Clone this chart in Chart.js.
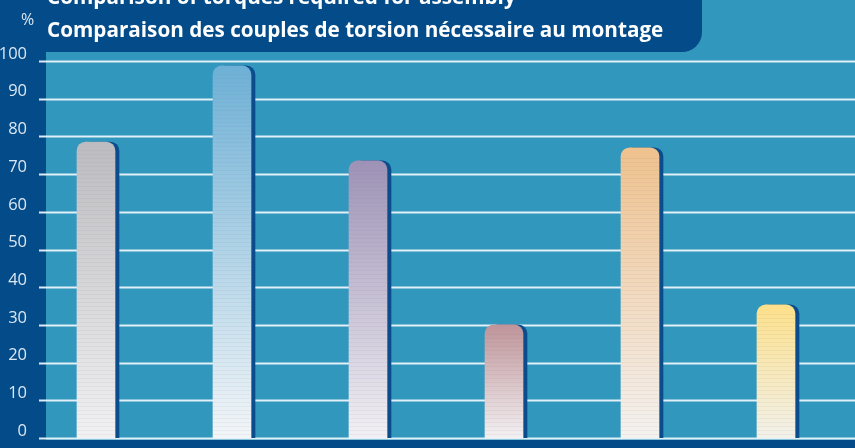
<!DOCTYPE html>
<html>
<head>
<meta charset="utf-8">
<script src="https://cdn.jsdelivr.net/npm/chart.js@4"></script>
<style>
  html, body { margin: 0; padding: 0; background: #034b89; overflow: hidden; }
  #wrap { width: 855px; height: 448px; }
</style>
</head>
<body>
<div id="wrap"><canvas id="myChart" width="855" height="448"></canvas></div>
<script>
// chart data
var categories = ['1', '2', '3', '4', '5', '6'];
var values = [78.5, 98.7, 73.5, 30, 77, 35.3];
var yTicks = [0, 10, 20, 30, 40, 50, 60, 70, 80, 90, 100];
var topColors = ['#bcbcc0', '#6db0d6', '#9d92b6', '#be9499', '#efc18d', '#fde08a'];
var bottomColors = ['#f1f1f3', '#f3f6f8', '#f2f0f4', '#f3f0f2', '#f4f2f0', '#f2f1ea'];
var titleLines = ['Comparison of torques required for assembly', 'Comparaison des couples de torsion nécessaire au montage'];
var unitLabel = '%';

var navy = '#034b89';
var teal = '#3197bd';

var backdrop = {
    id: 'backdrop',
    beforeDraw: function (chart) {
        var c = chart.ctx, w = chart.width, h = chart.height;
        c.save();
        c.fillStyle = navy;
        c.fillRect(0, 0, w, h);
        c.fillStyle = teal;
        c.fillRect(46, 0, w - 46, 440);

        // title panel, rounded bottom-right corner
        c.fillStyle = navy;
        c.beginPath();
        c.moveTo(0, 0);
        c.lineTo(702, 0);
        c.lineTo(702, 32);
        c.arcTo(702, 52, 682, 52, 20);
        c.lineTo(0, 52);
        c.closePath();
        c.fill();

        // grid lines from the y scale
        var ys = chart.scales.y;
        c.strokeStyle = 'rgba(236,244,250,0.95)';
        c.lineWidth = 2;
        ys.ticks.forEach(function (t) {
            var y = Math.round(ys.getPixelForValue(t.value)) + 0.5;
            c.beginPath();
            c.moveTo(39, y);
            c.lineTo(w, y);
            c.stroke();
        });

        // titles
        c.fillStyle = '#ffffff';
        c.font = 'bold 20.7px "Open Sans"';
        c.textBaseline = 'alphabetic';
        c.fillText(titleLines[0], 47, 4);
        c.fillText(titleLines[1], 47, 37);
        c.font = '16px "Open Sans"';
        c.fillStyle = '#dce8f3';
        c.fillText(unitLabel, 21, 25);
        c.restore();
    },
    beforeDatasetsDraw: function (chart) {
        var c = chart.ctx;
        c.save();
        c.shadowColor = '#0a4c8c';
        c.shadowOffsetX = 4;
        c.shadowOffsetY = 0;
        c.shadowBlur = 0;
    },
    afterDatasetsDraw: function (chart) {
        var c = chart.ctx;
        c.restore();
        // faint horizontal stripes inside the bars
        c.save();
        c.strokeStyle = 'rgba(110,110,130,0.07)';
        c.lineWidth = 1;
        chart.getDatasetMeta(0).data.forEach(function (bar) {
            var left = bar.x - bar.width / 2;
            for (var y = bar.base - 3.5; y > bar.y + 8; y -= 4) {
                c.beginPath();
                c.moveTo(left, y);
                c.lineTo(left + bar.width, y);
                c.stroke();
            }
        });
        c.restore();
    }
};

var ctx = document.getElementById('myChart');

var chartGraph = new Chart(ctx, {
    type: 'bar',
    data: {
        labels: categories,
        datasets: [{
            data: values,
            barThickness: 38,
            borderRadius: { topLeft: 9, topRight: 9, bottomLeft: 0, bottomRight: 0 },
            borderSkipped: 'bottom',
            backgroundColor: function (context) {
                var chart = context.chart;
                var i = context.dataIndex;
                if (!chart.chartArea || !chart.scales.y) return topColors[i];
                var yTop = chart.scales.y.getPixelForValue(values[i]);
                var yBot = chart.scales.y.getPixelForValue(0);
                var g = chart.ctx.createLinearGradient(0, yTop, 0, yBot);
                g.addColorStop(0, topColors[i]);
                g.addColorStop(1, bottomColors[i]);
                return g;
            }
        }]
    },
    options: {
        responsive: false,
        animation: false,
        devicePixelRatio: 1,
        layout: { padding: { top: 61, right: 11, bottom: 10, left: 0 } },
        plugins: {
            legend: { display: false },
            tooltip: { enabled: false }
        },
        scales: {
            x: { display: false, offset: true },
            y: {
                min: 0,
                max: 100,
                afterBuildTicks: function (scale) {
                    scale.ticks = yTicks.map(function (v) { return { value: v }; });
                },
                afterFit: function (scale) { scale.width = 28; },
                grid: { display: false },
                border: { display: false },
                ticks: {
                    color: '#dce8f3',
                    font: { family: 'Open Sans', size: 16.5 },
                    padding: -7,
                    labelOffset: -7
                }
            }
        }
    },
    plugins: [backdrop]
});
</script>
</body>
</html>
